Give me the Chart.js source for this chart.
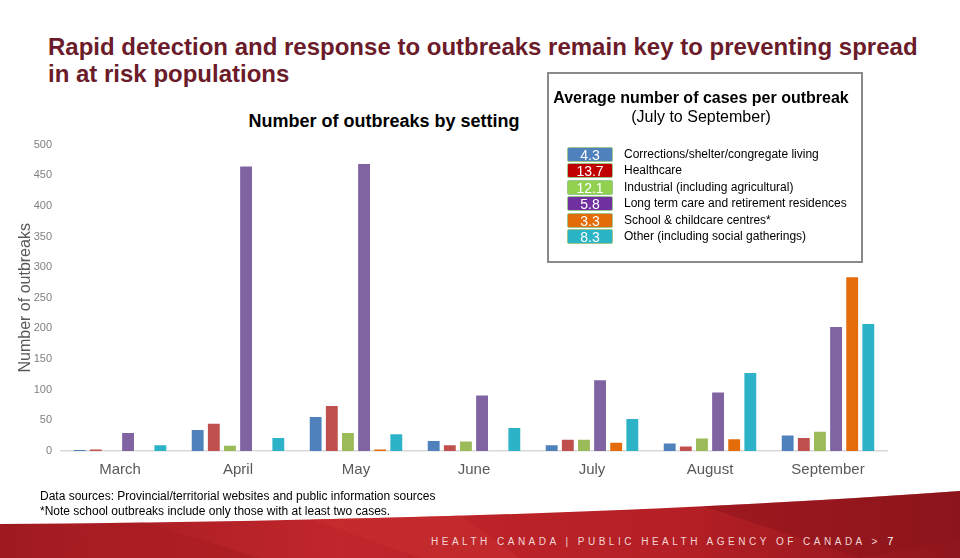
<!DOCTYPE html>
<html>
<head>
<meta charset="utf-8">
<script src="https://cdn.jsdelivr.net/npm/chart.js@4"></script>
<style>
  html,body{margin:0;padding:0;background:#fff;}
  body{width:960px;height:558px;position:relative;overflow:hidden;font-family:"Liberation Sans",Arial,sans-serif;}
  #title{position:absolute;left:48px;top:33px;font-size:24px;font-weight:bold;color:#6B1B2A;line-height:27px;white-space:nowrap;}
  #ctitle{position:absolute;left:238px;top:111px;width:292px;text-align:center;font-size:18px;font-weight:bold;color:#000;white-space:nowrap;}
  #wrap{position:absolute;left:0;top:129px;width:900px;height:361px;}
  #legend{position:absolute;left:547px;top:72px;width:312px;height:187px;border:2px solid #8a8a8a;background:#fff;box-sizing:content-box;}
  #legend .h1{position:absolute;left:-4px;top:15px;width:100%;text-align:center;font-size:16px;font-weight:bold;color:#000;white-space:nowrap;}
  #legend .h2{position:absolute;left:-4px;top:34px;width:100%;text-align:center;font-size:16px;color:#000;}
  .row{position:absolute;left:18px;height:15px;}
  .badge{position:absolute;left:0;top:0;width:46px;height:15px;border:1px solid #9bc58a;border-radius:2px;color:#fff;font-size:14px;line-height:15px;text-align:center;box-sizing:border-box;}
  .lab{position:absolute;left:57px;top:0;font-size:12px;line-height:15px;color:#000;white-space:nowrap;}
  #notes{position:absolute;left:40px;top:489px;font-size:12px;line-height:15px;color:#000;}
  #foot{position:absolute;left:0;top:0;}
  #ftext{position:absolute;left:431px;top:535px;font-size:10px;letter-spacing:3.5px;color:#f3d6d6;white-space:nowrap;}
  #ftext b{font-weight:normal;color:#fff;font-size:11px;letter-spacing:0;}
</style>
</head>
<body>
<svg id="foot" width="960" height="558">
  <defs>
    <linearGradient id="rg" x1="0" y1="0" x2="1" y2="0">
      <stop offset="0" stop-color="#9E1A20"/>
      <stop offset="0.35" stop-color="#C0262B"/>
      <stop offset="0.7" stop-color="#B51F25"/>
      <stop offset="1" stop-color="#8E161C"/>
    </linearGradient>
    <clipPath id="cp"><path d="M0,524 Q560,520 960,491 L960,558 L0,558 Z"/></clipPath>
  </defs>
  <path d="M0,524 Q560,520 960,491 L960,558 L0,558 Z" fill="url(#rg)"/>
  <g clip-path="url(#cp)">
    <path d="M120,515 L260,558 L60,558 Z" fill="#A81D22" opacity="0.6"/>
    <path d="M700,505 L860,558 L960,540 L960,490 Z" fill="#8A151B" opacity="0.45"/>
    <path d="M300,515 L420,558 L520,558 L460,515 Z" fill="#C8302F" opacity="0.5"/>
  </g>
</svg>
<div id="title">Rapid detection and response to outbreaks remain key to preventing spread<br>in at risk populations</div>
<div id="ctitle">Number of outbreaks by setting</div>
<div id="wrap"><canvas id="c" width="900" height="361"></canvas></div>
<div id="legend">
  <div class="h1">Average number of cases per outbreak</div>
  <div class="h2">(July to September)</div>
  <div id="rows"></div>
</div>
<div id="notes">Data sources: Provincial/territorial websites and public information sources<br>*Note school outbreaks include only those with at least two cases.</div>
<div id="ftext">HEALTH CANADA | PUBLIC HEALTH AGENCY OF CANADA &gt; <b>7</b></div>
<script>
const months = ["March","April","May","June","July","August","September"];
const settings = ["Corrections/shelter/congregate living","Healthcare","Industrial (including agricultural)","Long term care and retirement residences","School & childcare centres*","Other (including social gatherings)"];
const corrections = [3, 36, 57, 18, 11, 14, 27];
const healthcare  = [4, 46, 75, 11, 20, 9, 23];
const industrial  = [0, 10, 31, 17, 20, 22, 33];
const longTermCare= [31, 466, 470, 92, 117, 97, 204];
const school      = [0, 0, 4, 0, 15, 21, 285];
const other       = [11, 23, 29, 39, 54, 129, 209];
const avgCases    = ["4.3","13.7","12.1","5.8","3.3","8.3"];
const yTicks = [0,50,100,150,200,250,300,350,400,450,500];

const barColors = ["#4F81BD","#C0504D","#9BBB59","#8064A2","#E46C0A","#2CB3C7"];
const badgeColors = ["#4F81BD","#C00000","#92D050","#7030A0","#E36C09","#2BB3C6"];
const series = [corrections, healthcare, industrial, longTermCare, school, other];

const rows = document.getElementById('rows');
settings.forEach((s,i)=>{
  const r = document.createElement('div');
  r.className='row'; r.style.top=(73+i*16.4)+'px';
  const b = document.createElement('div'); b.className='badge'; b.style.background=badgeColors[i]; b.textContent=avgCases[i];
  const l = document.createElement('div'); l.className='lab'; l.textContent=s;
  r.appendChild(b); r.appendChild(l); rows.appendChild(r);
});

new Chart(document.getElementById('c'), {
  type:'bar',
  data:{
    labels: months,
    datasets: series.map((d,i)=>({
      label: settings[i], data: d,
      backgroundColor: barColors[i],
      borderColor: 'rgba(255,255,255,0.35)',
      borderWidth: 1,
      barPercentage: 0.86,
      categoryPercentage: 0.82
    }))
  },
  options:{
    responsive:false, animation:false,
    layout:{padding:{top:5,right:13,left:0,bottom:0}},
    plugins:{legend:{display:false},title:{display:false},tooltip:{enabled:false}},
    scales:{
      x:{
        grid:{display:false, drawTicks:false},
        border:{display:true,color:'#d9d9d9',width:1.5},
        ticks:{color:'#595959',font:{family:'"Liberation Sans", Arial, sans-serif',size:15},padding:10},
        afterFit(s){ s.height = 39; }
      },
      y:{
        min:0,max:500,
        afterBuildTicks(s){ s.ticks = yTicks.map(v=>({value:v})); },
        grid:{display:false, drawTicks:false},
        border:{display:false},
        ticks:{color:'#7f7f7f',font:{family:'"Liberation Sans", Arial, sans-serif',size:11},padding:9},
        title:{display:true,text:'Number of outbreaks',color:'#595959',font:{family:'"Liberation Sans", Arial, sans-serif',size:16},padding:{top:16,bottom:4}},
        afterFit(s){ s.width = 61; }
      }
    }
  }
});
</script>
</body>
</html>
